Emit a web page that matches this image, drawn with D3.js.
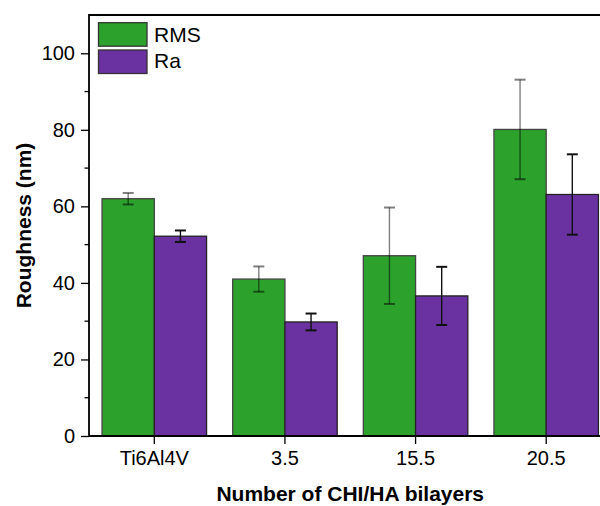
<!DOCTYPE html>
<html>
<head>
<meta charset="utf-8">
<script src="https://cdn.jsdelivr.net/npm/d3@7"></script>
<style>
  html, body { margin: 0; padding: 0; background: #fff; }
  svg { display: block; font-family: Arial, "Liberation Sans", sans-serif; }
</style>
</head>
<body>
<svg id="chart" width="600" height="506"></svg>
<script>
// Surface roughness by coating
const categories = ["Ti6Al4V", "3.5", "15.5", "20.5"];
const seriesNames = ["RMS", "Ra"];
const rmsValues = [62.0, 41.0, 47.1, 80.1];
const rmsErrors = [1.5, 3.3, 12.6, 13.0];
const raValues = [52.2, 29.8, 36.6, 63.1];
const raErrors = [1.5, 2.2, 7.6, 10.5];
const yTicks = [0, 20, 40, 60, 80, 100];
const yMinorTicks = [10, 30, 50, 70, 90];
const colors = { RMS: "#2ca12c", Ra: "#6a31a1" };

const series = [
  { name: "RMS", values: rmsValues, errors: rmsErrors, stroke: "#444", errColor: "rgba(0,0,0,0.5)" },
  { name: "Ra", values: raValues, errors: raErrors, stroke: "#222", errColor: "#111" }
];

const svg = d3.select("#chart");
const plotLeft = 89, plotRight = 611.5, plotTop = 15, plotBottom = 436;

const x = d3.scaleBand().domain(categories).range([plotLeft, plotRight])
  .paddingInner(0.2).paddingOuter(0.1);
const xs = d3.scaleBand().domain(seriesNames).range([0, x.bandwidth()]);
const y = d3.scaleLinear().domain([0, 110]).range([plotBottom, plotTop]);

// bars
series.forEach(s => {
  const g = svg.append("g");
  g.selectAll("rect").data(categories).join("rect")
    .attr("x", (c) => x(c) + xs(s.name))
    .attr("y", (c, i) => y(s.values[i]))
    .attr("width", xs.bandwidth())
    .attr("height", (c, i) => y(0) - y(s.values[i]))
    .attr("fill", colors[s.name])
    .attr("stroke", s.stroke)
    .attr("stroke-width", 1.3);
});

// error bars
series.forEach(s => {
  const g = svg.append("g").attr("stroke", s.errColor).attr("stroke-width", 1.4).attr("fill", "none");
  categories.forEach((c, i) => {
    const cx = x(c) + xs(s.name) + xs.bandwidth() / 2;
    const hi = y(s.values[i] + s.errors[i]);
    const lo = y(s.values[i] - s.errors[i]);
    g.append("line").attr("x1", cx).attr("x2", cx).attr("y1", hi).attr("y2", lo);
    g.append("line").attr("x1", cx - 5.5).attr("x2", cx + 5.5).attr("y1", hi).attr("y2", hi).attr("stroke-width", 2);
    g.append("line").attr("x1", cx - 5.5).attr("x2", cx + 5.5).attr("y1", lo).attr("y2", lo).attr("stroke-width", 2);
  });
});

// y axis
const yAxis = d3.axisLeft(y).tickValues(yTicks).tickSize(8).tickPadding(6).tickSizeOuter(0);
const yg = svg.append("g").attr("transform", `translate(${plotLeft},0)`).call(yAxis);
yg.select(".domain").remove();
yg.selectAll(".tick line").attr("stroke", "#000").attr("stroke-width", 1.3);
yg.selectAll(".tick text").attr("font-size", 20).attr("fill", "#000")
  .attr("font-family", "Arial, 'Liberation Sans', sans-serif");
yg.selectAll(".minor").data(yMinorTicks).join("line")
  .attr("class", "minor")
  .attr("x1", -4.5).attr("x2", 0)
  .attr("y1", d => y(d)).attr("y2", d => y(d))
  .attr("stroke", "#000").attr("stroke-width", 1.3);

// x axis
const xAxis = d3.axisBottom(x).tickSize(8).tickPadding(7).tickSizeOuter(0);
const xg = svg.append("g").attr("transform", `translate(0,${plotBottom})`).call(xAxis);
xg.select(".domain").remove();
xg.selectAll(".tick line").attr("stroke", "#000").attr("stroke-width", 1.3);
xg.selectAll(".tick text").attr("font-size", 20).attr("fill", "#000")
  .attr("font-family", "Arial, 'Liberation Sans', sans-serif");

// frame
svg.append("path")
  .attr("d", `M${plotLeft},${plotBottom}H${plotRight}M${plotLeft},${plotBottom}V${plotTop}H${plotRight}`)
  .attr("stroke", "#000").attr("stroke-width", 1.8).attr("fill", "none");

// axis titles
svg.append("text")
  .attr("transform", `translate(31,${(plotTop + plotBottom) / 2}) rotate(-90)`)
  .attr("text-anchor", "middle")
  .attr("font-size", 21).attr("font-weight", "bold")
  .text("Roughness (nm)");
svg.append("text")
  .attr("x", (plotLeft + plotRight) / 2).attr("y", 501)
  .attr("text-anchor", "middle")
  .attr("font-size", 21).attr("font-weight", "bold")
  .text("Number of CHI/HA bilayers");

// legend
const legend = svg.append("g");
series.forEach((s, i) => {
  legend.append("rect")
    .attr("x", 98.5).attr("y", 22.7 + i * 27.3)
    .attr("width", 48.5).attr("height", 23.5)
    .attr("fill", colors[s.name]).attr("stroke", "#333").attr("stroke-width", 1.3);
  legend.append("text")
    .attr("x", 154).attr("y", 41.7 + i * 26.6)
    .attr("font-size", 21)
    .text(s.name);
});
</script>
</body>
</html>
